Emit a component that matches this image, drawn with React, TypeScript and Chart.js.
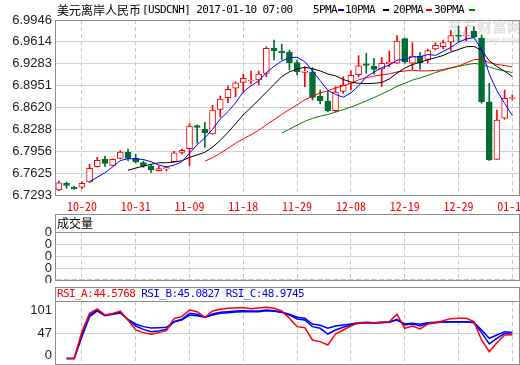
import React, { useEffect, useRef } from 'react';
import { Chart, registerables } from 'chart.js';

Chart.register(...registerables);

const MONO = '"Noto Sans Mono CJK SC", "Noto Sans CJK SC", "DejaVu Sans Mono", monospace';
const ASCII_MONO = '"DejaVu Sans Mono", monospace';
const CJK = '"Noto Sans CJK SC", sans-serif';
const AXIS_FONT = '"Liberation Sans", Arial, sans-serif';
const RED = '#ff0000';
const GREEN = '#006e32';

const DATES = ['10-17','10-18','10-19','10-20','10-21','10-24','10-25','10-26','10-27','10-28','10-31','11-01','11-02','11-03','11-04','11-07','11-08','11-09','11-10','11-11','11-14','11-15','11-16','11-17','11-18','11-21','11-22','11-23','11-24','11-25','11-28','11-29','11-30','12-01','12-02','12-05','12-06','12-07','12-08','12-09','12-12','12-13','12-14','12-15','12-16','12-19','12-20','12-21','12-22','12-23','12-27','12-28','12-29','12-30','01-03','01-04','01-05','01-06','01-09','01-10'];

const OPEN = [6.7369,6.7470,6.7410,6.7410,6.7490,6.7722,6.7834,6.7743,6.7849,6.7940,6.7854,6.7783,6.7733,6.7661,6.7687,6.7798,6.7940,6.7995,6.8344,6.8289,6.8218,6.8592,6.8768,6.8911,6.9001,6.9021,6.9036,6.9138,6.9517,6.9471,6.9461,6.9299,6.9153,6.9162,6.8794,6.8718,6.8571,6.8865,6.8986,6.9117,6.9283,6.9249,6.9203,6.9283,6.9290,6.9663,6.9290,6.9400,6.9350,6.9506,6.9541,6.9612,6.9719,6.9703,6.9779,6.9669,6.8707,6.7834,6.8456,6.8756];
const CLOSE = [6.7479,6.7440,6.7388,6.7470,6.7698,6.7819,6.7773,6.7834,6.7945,6.7849,6.7793,6.7733,6.7672,6.7692,6.7707,6.7934,6.7971,6.8339,6.8319,6.8237,6.8582,6.8748,6.8895,6.8995,6.9062,6.9036,6.9127,6.9517,6.9481,6.9450,6.9299,6.9162,6.9173,6.8774,6.8723,6.8566,6.8854,6.8956,6.9108,6.9253,6.9259,6.9198,6.9290,6.9309,6.9628,6.9309,6.9400,6.9299,6.9481,6.9562,6.9602,6.9708,6.9696,6.9719,6.9684,6.8707,6.7823,6.8430,6.8759,6.8771];
const HIGH = [6.7505,6.7490,6.7429,6.7494,6.7758,6.7864,6.7884,6.7843,6.7964,6.7990,6.7910,6.7808,6.7752,6.7733,6.7728,6.7955,6.7990,6.8374,6.8354,6.8395,6.8653,6.8794,6.8945,6.9011,6.9123,6.9173,6.9173,6.9541,6.9643,6.9582,6.9491,6.9340,6.9238,6.9223,6.8885,6.8859,6.8935,6.9086,6.9177,6.9405,6.9441,6.9365,6.9381,6.9476,6.9708,6.9673,6.9602,6.9456,6.9502,6.9602,6.9643,6.9784,6.9855,6.9840,6.9844,6.9719,6.8986,6.8582,6.8885,6.8809];
const LOW = [6.7358,6.7394,6.7379,6.7388,6.7482,6.7717,6.7728,6.7737,6.7839,6.7813,6.7778,6.7713,6.7637,6.7657,6.7657,6.7789,6.7914,6.7733,6.8077,6.8016,6.8213,6.8471,6.8692,6.8783,6.8854,6.8976,6.8961,6.9086,6.9340,6.9340,6.9188,6.9112,6.8935,6.8733,6.8673,6.8551,6.8556,6.8835,6.8885,6.9086,6.9138,6.9127,6.8935,6.9238,6.9287,6.9290,6.9198,6.9198,6.9290,6.9491,6.9506,6.9481,6.9617,6.9628,6.9673,6.8683,6.7816,6.7831,6.8441,6.8733];

const MA5 = [null,null,null,null,6.7495,6.7563,6.7630,6.7719,6.7814,6.7844,6.7839,6.7831,6.7798,6.7748,6.7719,6.7747,6.7795,6.7928,6.8054,6.8160,6.8290,6.8445,6.8556,6.8692,6.8857,6.8947,6.9023,6.9148,6.9245,6.9322,6.9375,6.9382,6.9313,6.9172,6.9026,6.8880,6.8818,6.8775,6.8841,6.8947,6.9086,6.9155,6.9222,6.9262,6.9337,6.9347,6.9387,6.9389,6.9423,6.9410,6.9469,6.9530,6.9610,6.9657,6.9682,6.9503,6.9126,6.8873,6.8681,6.8498];
const MA10 = [null,null,null,null,null,null,null,null,null,6.7670,6.7701,6.7730,6.7759,6.7781,6.7782,6.7793,6.7813,6.7863,6.7901,6.7940,6.8018,6.8120,6.8242,6.8373,6.8508,6.8619,6.8734,6.8852,6.8968,6.9089,6.9161,6.9202,6.9230,6.9208,6.9174,6.9127,6.9100,6.9044,6.9006,6.8987,6.8983,6.8986,6.8998,6.9052,6.9142,6.9216,6.9271,6.9305,6.9343,6.9374,6.9408,6.9459,6.9499,6.9540,6.9546,6.9486,6.9328,6.9241,6.9169,6.9090];
const MA20 = [null,null,null,null,null,null,null,null,null,null,null,null,null,null,null,null,null,null,null,6.7805,6.7860,6.7925,6.8000,6.8077,6.8145,6.8206,6.8273,6.8358,6.8434,6.8514,6.8590,6.8661,6.8736,6.8790,6.8841,6.8873,6.8917,6.8948,6.8987,6.9038,6.9072,6.9094,6.9114,6.9130,6.9158,6.9172,6.9185,6.9175,6.9175,6.9180,6.9195,6.9223,6.9249,6.9296,6.9344,6.9351,6.9300,6.9273,6.9256,6.9232];
const MA30 = [null,null,null,null,null,null,null,null,null,null,null,null,null,null,null,null,null,null,null,null,null,null,null,null,null,null,null,null,null,6.8233,6.8293,6.8351,6.8410,6.8454,6.8488,6.8513,6.8549,6.8586,6.8625,6.8672,6.8721,6.8770,6.8824,6.8877,6.8942,6.8987,6.9035,6.9067,6.9106,6.9150,6.9184,6.9216,6.9243,6.9267,6.9287,6.9276,6.9233,6.9197,6.9173,6.9150];

const VOLUME = [0,0,0,0,0,0,0,0,0,0,0,0,0,0,0,0,0,0,0,0,0,0,0,0,0,0,0,0,0,0,0,0,0,0,0,0,0,0,0,0,0,0,0,0,0,0,0,0,0,0,0,0,0,0,0,0,0,0,0,0];

const RSI_A = [null,0,0,50.6,85.2,93.4,82.0,85.0,89.6,72.6,53.8,48.8,45.6,48.8,52.5,75.8,79.0,91.5,88.4,77.7,89.6,92.8,94.7,95.3,96.0,94.0,95.3,96.6,94.7,89.6,75.8,60.1,58.2,34.9,31.8,25.5,46.2,53.8,61.3,67.6,67.6,66.4,68.9,69.5,83.4,57.0,61.3,55.7,65.1,67.6,71.4,75.2,75.8,75.8,69.5,34.9,12.9,29.9,44.4,44.58];
const RSI_B = [null,0,0,44.4,82.0,91.5,82.0,84.0,87.1,72.6,61.3,55.0,50.6,51.9,55.0,69.5,73.9,85.2,83.4,77.7,84.0,87.1,88.4,89.6,90.3,89.6,89.6,91.5,90.3,87.1,82.0,74.6,72.6,60.1,57.0,46.2,53.8,58.9,63.3,66.4,67.6,66.4,67.6,68.3,73.9,63.3,65.1,61.3,66.4,67.6,68.9,69.5,69.5,69.5,67.6,48.8,27.4,38.1,47.5,45.08];
const RSI_C = [null,0,0,41.2,79.0,89.6,80.8,83.4,85.9,73.9,65.1,60.1,57.6,58.2,58.9,69.5,72.6,82.0,80.8,77.7,82.0,85.2,86.5,87.8,88.4,88.4,88.4,90.3,89.0,87.1,83.4,77.7,75.8,65.1,62.6,57.0,61.3,63.3,65.1,67.6,68.3,67.6,68.3,68.9,72.6,65.1,66.4,64.5,67.6,68.3,68.9,68.9,68.9,68.9,68.3,53.8,38.1,44.4,50.6,48.97];

const PRICE_TICKS = [6.7293, 6.7625, 6.7956, 6.8288, 6.8620, 6.8951, 6.9283, 6.9614, 6.9946];
const DATE_TICK_INDEX = [3, 10, 17, 24, 31, 38, 45, 52, 59];
const VOLUME_TICKS = [0, 1, 2, 3, 4];
const VOLUME_TICK_LABELS = ['0', '0', '0', '0', '0'];
const RSI_TICK_VALUES = [90.6, 47, 5.3];
const RSI_TICK_LABELS = ['101', '47', '0'];

const framePlugin = {
  id: 'frame',
  afterDraw(chart: any, _args: any, opts: any) {
    const { ctx, chartArea: a } = chart;
    const header = opts.header || 0;
    const l = Math.round(a.left) + 0.5;
    const r = Math.round(a.right) - 0.5;
    const t = Math.round(a.top) + 0.5;
    const b = Math.round(a.bottom) + 0.5;
    ctx.save();
    ctx.strokeStyle = '#8c8c8c';
    ctx.lineWidth = 1;
    ctx.strokeRect(l, t - header, r - l, b - t + header);
    if (header) {
      ctx.beginPath();
      ctx.moveTo(l, t);
      ctx.lineTo(r, t);
      ctx.stroke();
    }
    ctx.restore();
  },
};

function xScale(showLabels: boolean): any {
  return {
    type: 'linear',
    min: -0.5,
    max: 60,
    offset: false,
    afterBuildTicks: (s: any) => { s.ticks = DATE_TICK_INDEX.map((v) => ({ value: v })); },
    afterFit: (s: any) => { s.paddingLeft = 0; s.paddingRight = 0; s.height = showLabels ? 20 : 0; },
    ticks: {
      display: showLabels, autoSkip: false, maxRotation: 0, minRotation: 0, padding: 4,
      color: RED, font: { family: MONO, size: 12 },
      callback: (v: number) => DATES[v],
    },
    grid: { color: '#c8c8c8', drawTicks: false, offset: false, lineWidth: 1 },
    border: { display: false, dash: [4, 3] },
  };
}

function yScale(min: number, max: number, values: number[], label: (v: number) => string, gridColor: any): any {
  return {
    type: 'linear', min, max,
    afterBuildTicks: (s: any) => { s.ticks = values.map((v) => ({ value: v })); },
    afterFit: (s: any) => { s.width = 55; s.paddingTop = 0; s.paddingBottom = 0; },
    ticks: { padding: 3, autoSkip: false, color: '#222', font: { family: AXIS_FONT, size: 13 }, callback: (v: any) => label(Number(v)) },
    grid: { color: gridColor, drawTicks: false },
    border: { display: false },
  };
}

function lineDs(label: string, values: (number | null)[], color: string, order: number, width = 1): any {
  return {
    type: 'line', label, order,
    data: values.map((v, i) => ({ x: i, y: v })),
    borderColor: color, borderWidth: width, pointRadius: 0, tension: 0, spanGaps: false, fill: false,
  };
}

const baseOptions: any = {
  responsive: false,
  animation: false,
  events: [],
};

export default function App() {
  const mainRef = useRef<HTMLCanvasElement>(null);
  const volRef = useRef<HTMLCanvasElement>(null);
  const rsiRef = useRef<HTMLCanvasElement>(null);

  useEffect(() => {
    const idx = DATES.map((_, i) => i);
    const up = (i: number) => CLOSE[i] >= OPEN[i];

    const main = new Chart(mainRef.current as HTMLCanvasElement, {
      type: 'bar',
      data: {
        datasets: [
          lineDs('MA5', MA5, '#0000ff', 0),
          lineDs('MA10', MA10, '#000000', 1),
          lineDs('MA20', MA20, '#ff0000', 2),
          lineDs('MA30', MA30, '#008000', 3),
          {
            type: 'bar', label: 'body', order: 4, grouped: false,
            data: idx.map((i) => ({ x: i, y: [OPEN[i], CLOSE[i]] })),
            backgroundColor: idx.map((i) => (up(i) ? '#ffffff' : GREEN)),
            borderColor: idx.map((i) => (up(i) ? RED : GREEN)),
            borderWidth: 1, borderSkipped: false, barThickness: 6,
          },
          {
            type: 'bar', label: 'wick', order: 5, grouped: false,
            data: idx.map((i) => ({ x: i, y: [LOW[i], HIGH[i]] })),
            backgroundColor: idx.map((i) => (up(i) ? RED : GREEN)),
            borderWidth: 0, barThickness: 1,
          },
        ] as any,
      },
      options: {
        ...baseOptions,
        layout: { padding: { top: 20, right: 0, left: 0, bottom: 0 } },
        plugins: { legend: { display: false }, tooltip: { enabled: false }, frame: { header: 0 } } as any,
        scales: {
          x: xScale(true),
          y: yScale(6.7293, 6.9946, PRICE_TICKS, (v) => v.toFixed(4), '#d0d0d0'),
        } as any,
      },
      plugins: [framePlugin],
    });

    const vol = new Chart(volRef.current as HTMLCanvasElement, {
      type: 'bar',
      data: {
        datasets: [{
          label: 'volume', data: VOLUME.map((v, i) => ({ x: i, y: v })),
          backgroundColor: GREEN, barThickness: 5,
        }] as any,
      },
      options: {
        ...baseOptions,
        layout: { padding: { top: 18, right: 0, left: 0, bottom: 3 } },
        plugins: { legend: { display: false }, tooltip: { enabled: false }, frame: { header: 18 } } as any,
        scales: {
          x: xScale(false),
          y: yScale(0, 4, VOLUME_TICKS, (v) => VOLUME_TICK_LABELS[VOLUME_TICKS.indexOf(v)], '#d0d0d0'),
        } as any,
      },
      plugins: [framePlugin],
    });

    const rsi = new Chart(rsiRef.current as HTMLCanvasElement, {
      type: 'line',
      data: {
        datasets: [
          lineDs('RSI_A', RSI_A, '#ff0000', 0, 1.5),
          lineDs('RSI_B', RSI_B, '#0000ff', 1, 1.5),
          lineDs('RSI_C', RSI_C, '#0000ff', 2, 1.5),
        ] as any,
      },
      options: {
        ...baseOptions,
        layout: { padding: { top: 15, right: 0, left: 0, bottom: 1 } },
        plugins: { legend: { display: false }, tooltip: { enabled: false }, frame: { header: 14 } } as any,
        scales: {
          x: xScale(false),
          y: yScale(-10.4, 108.5, RSI_TICK_VALUES, (v) => RSI_TICK_LABELS[RSI_TICK_VALUES.indexOf(v)],
            (c: any) => (c.tick && c.tick.value === 47 ? '#d0d0d0' : 'rgba(0,0,0,0)')),
        } as any,
      },
      plugins: [framePlugin],
    });

    return () => { main.destroy(); vol.destroy(); rsi.destroy(); };
  }, []);

  const txt = (left: number, top: number, extra: React.CSSProperties = {}): React.CSSProperties => ({
    position: 'absolute', left, top, whiteSpace: 'pre', lineHeight: '14px', fontSize: 11,
    fontFamily: ASCII_MONO, letterSpacing: '-0.6px', color: '#000', ...extra,
  });
  const cjk = (left: number, top: number, extra: React.CSSProperties = {}): React.CSSProperties => ({
    position: 'absolute', left, top, whiteSpace: 'pre', lineHeight: '14px', fontSize: 12,
    fontFamily: CJK, color: '#000', ...extra,
  });
  const dash = (left: number, color: string): React.CSSProperties => ({
    position: 'absolute', left, top: 9, width: 6, height: 2, background: color,
  });

  return (
    <div style={{ position: 'absolute', left: 0, top: 0, width: 520, height: 365, background: '#fff', overflow: 'hidden' }}>
      <div style={cjk(447, 18, { fontSize: 15, fontWeight: 'bold', color: '#e2e2e2', lineHeight: '16px' })}>东方财富网</div>
      <div style={cjk(452, 35, { fontSize: 9, fontWeight: 'bold', fontStyle: 'italic', color: '#e2e2e2', fontFamily: AXIS_FONT, lineHeight: '10px' })}>eastmoney.com</div>
      <canvas ref={mainRef} width={520} height={215} style={{ position: 'absolute', left: 0, top: 0 }} />
      <canvas ref={volRef} width={520} height={69} style={{ position: 'absolute', left: 0, top: 214 }} />
      <canvas ref={rsiRef} width={520} height={79} style={{ position: 'absolute', left: 0, top: 286 }} />
      <div style={cjk(57, 3)}>美元离岸人民币</div>
      <div style={txt(142, 3)}>[USDCNH] 2017-01-10 07:00</div>
      <div style={txt(313, 3)}>5PMA</div>
      <div style={dash(338, '#0000ff')} />
      <div style={txt(345, 3)}>10PMA</div>
      <div style={dash(383, '#000000')} />
      <div style={txt(393, 3)}>20PMA</div>
      <div style={dash(426, '#ff0000')} />
      <div style={txt(434, 3)}>30PMA</div>
      <div style={dash(469, '#008000')} />
      <div style={cjk(57, 216)}>成交量</div>
      <div style={txt(57, 287)}>
        <span style={{ color: '#ff0000' }}>RSI_A:44.5768</span>{' '}
        <span style={{ color: '#0000ff' }}>RSI_B:45.0827</span>{' '}
        <span style={{ color: '#0000ff' }}>RSI_C:48.9745</span>
      </div>
    </div>
  );
}
